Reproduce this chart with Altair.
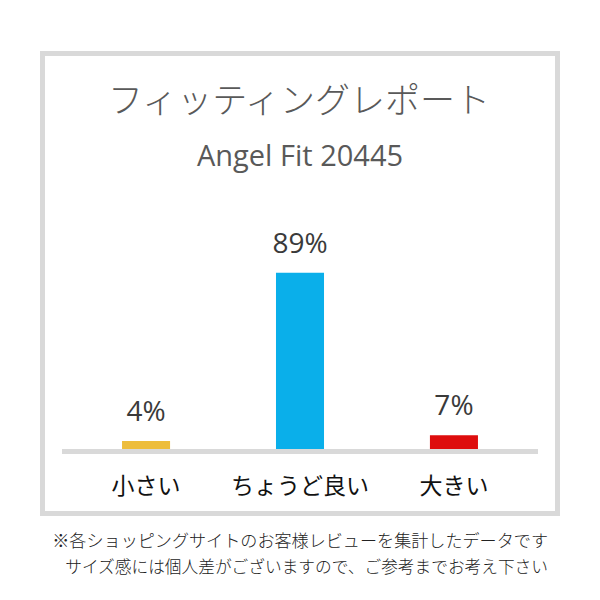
import altair as alt
import pandas as pd

# ---- data ----
categories = ["小さい", "ちょうど良い", "大きい"]
percents = [4, 89, 7]
bar_colors = ["#EDBD3C", "#0AAFEA", "#DE0D0D"]

title_text = "フィッティングレポート"
subtitle_text = "Angel Fit 20445"
note_lines = [
    "※各ショッピングサイトのお客様レビューを集計したデータです",
    "サイズ感には個人差がございますので、ご参考までお考え下さい",
]

df = pd.DataFrame({"cat": categories, "pct": percents})
one = pd.DataFrame({"a": [0]})

JP = "Noto Sans CJK JP"
LAT = "Open Sans"
OFF = 8  # page margin

xscale = alt.Scale(domain=categories, range=[62 - OFF, 538 - OFF],
                   paddingInner=0.688, paddingOuter=0.39)
yscale = alt.Scale(domain=[0, 100], range=[449 - OFF, 251 - OFF])
x_enc = alt.X("cat:N", scale=xscale, axis=None, sort=categories)

box = alt.Chart(one).mark_rect(fill="white", stroke="#D9D9D9", strokeWidth=5).encode(
    x=alt.value(42.5 - OFF), x2=alt.value(557.5 - OFF),
    y=alt.value(53.5 - OFF), y2=alt.value(513.5 - OFF))

title = alt.Chart(one).mark_text(text=title_text, font=JP, fontSize=35, fontWeight=300,
                                 color="#595959", baseline="middle", align="center").encode(
    x=alt.value(299 - OFF), y=alt.value(102 - OFF))

subtitle = alt.Chart(one).mark_text(text=subtitle_text, font=LAT, fontSize=29,
                                    color="#595959", baseline="alphabetic", align="center").encode(
    x=alt.value(300 - OFF), y=alt.value(166 - OFF))

baseline = alt.Chart(one).mark_rule(color="#D9D9D9", strokeWidth=5).encode(
    x=alt.value(62 - OFF), x2=alt.value(538 - OFF), y=alt.value(451.5 - OFF))

bars = alt.Chart(df).mark_bar().encode(
    x=x_enc,
    y=alt.Y("pct:Q", scale=yscale, axis=None),
    color=alt.Color("cat:N", scale=alt.Scale(domain=categories, range=bar_colors), legend=None),
)

pct_labels = alt.Chart(df).transform_calculate(
    lab="datum.pct + '%'"
).mark_text(font=LAT, fontSize=28, color="#3A3A3A", baseline="alphabetic", dy=-20).encode(
    x=x_enc,
    y=alt.Y("pct:Q", scale=yscale, axis=None),
    text="lab:N",
)

cat_labels = alt.Chart(df).mark_text(font=JP, fontSize=23, fontWeight=400, color="#111111",
                                     baseline="middle").encode(
    x=x_enc, y=alt.value(487 - OFF), text="cat:N")

note1 = alt.Chart(one).mark_text(text=note_lines[0], font=JP, fontSize=17.1, fontWeight=300,
                                 color="#222222", align="right", baseline="middle").encode(
    x=alt.value(548 - OFF), y=alt.value(542 - OFF))
note2 = alt.Chart(one).mark_text(text=note_lines[1], font=JP, fontSize=16.7, fontWeight=300,
                                 color="#222222", align="right", baseline="middle").encode(
    x=alt.value(548 - OFF), y=alt.value(568 - OFF))

chart = alt.layer(box, title, subtitle, baseline, bars, pct_labels, cat_labels, note1, note2).properties(
    width=584, height=584, autosize="none", padding=0, background="white"
).configure_view(stroke=None)

chart.save("out.html", embed_options={"renderer": "svg", "actions": False})
